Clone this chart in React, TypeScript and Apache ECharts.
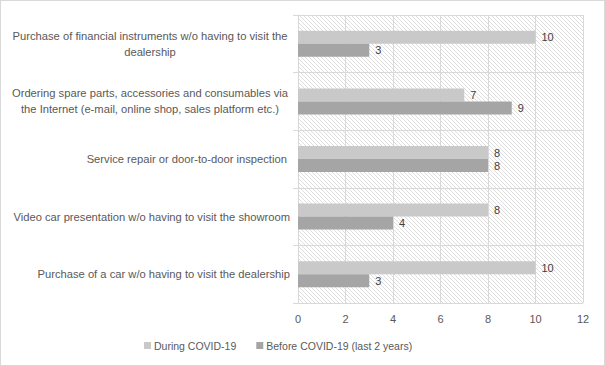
import React, { useEffect, useRef } from "react";
import * as echarts from "echarts";

const categories = [
  "Purchase of financial instruments w/o having to visit the\ndealership",
  "Ordering spare parts, accessories and consumables via\nthe Internet (e-mail, online shop, sales platform etc.)",
  "Service repair or door-to-door inspection ",
  "Video car presentation w/o having to visit the showroom",
  "Purchase of a car w/o having to visit the dealership",
];
const duringCovid = [10, 7, 8, 8, 10];
const beforeCovid = [3, 9, 8, 4, 3];
const seriesNames = ["During COVID-19", "Before COVID-19 (last 2 years)"];
const xTicks = { min: 0, max: 12, interval: 2 };

const FONT = "Liberation Sans";

function makeHatch(): HTMLCanvasElement {
  const c = document.createElement("canvas");
  c.width = 4;
  c.height = 4;
  const ctx = c.getContext("2d")!;
  ctx.fillStyle = "#ffffff";
  ctx.fillRect(0, 0, 4, 4);
  ctx.fillStyle = "#dedede";
  for (let i = 0; i < 4; i++) ctx.fillRect(i, i, 1, 1);
  return c;
}

export default function App() {
  const ref = useRef<HTMLDivElement>(null);
  useEffect(() => {
    if (!ref.current) return;
    const chart = echarts.init(ref.current, undefined, { renderer: "svg" });
    const labelColor = "#595959";
    const gridColor = "#d9d9d9";
    const catFont = 11.2;
    chart.setOption({
      animation: false,
      backgroundColor: "#ffffff",
      textStyle: { fontFamily: FONT },
      grid: {
        left: 297,
        right: 21,
        top: 14,
        bottom: 62,
        show: true,
        borderWidth: 0,
        backgroundColor: { image: makeHatch(), repeat: "repeat" },
      },
      legend: {
        bottom: 9,
        left: 138,
        itemWidth: 7,
        itemHeight: 7,
        itemGap: 20,
        icon: "rect",
        textStyle: { color: labelColor, fontSize: 10.5, fontFamily: FONT, padding: [0, 0, 0, -2] },
        data: seriesNames,
      },
      xAxis: {
        type: "value",
        min: xTicks.min,
        max: xTicks.max,
        interval: xTicks.interval,
        axisLine: { show: false },
        axisTick: { show: false },
        axisLabel: { color: labelColor, fontSize: 11, margin: 10, fontFamily: FONT },
        splitLine: { show: true, lineStyle: { color: gridColor, width: 1 } },
      },
      yAxis: {
        type: "category",
        inverse: true,
        data: categories,
        axisLine: { show: true, lineStyle: { color: gridColor } },
        axisTick: { show: true, length: 5, lineStyle: { color: gridColor } },
        splitLine: { show: true, lineStyle: { color: gridColor } },
        axisLabel: {
          color: labelColor,
          fontSize: catFont,
          fontFamily: FONT,
          margin: 8,
          align: "right",
          lineHeight: 16,
          formatter: (v: string) => {
            const lines = v.split("\n");
            if (lines.length === 1) return v;
            const key = v.startsWith("Purchase") ? "f" : "o";
            return lines.map((l) => `{${key}|${l}}`).join("\n");
          },
          rich: {
            f: { width: 280, align: "center", color: labelColor, fontSize: catFont, fontFamily: FONT, lineHeight: 16 },
            o: { width: 280, align: "center", color: labelColor, fontSize: catFont, fontFamily: FONT, lineHeight: 16 },
          },
        },
      },
      series: [
        {
          name: seriesNames[0],
          type: "bar",
          data: duringCovid,
          barWidth: 13,
          barGap: "0%",
          itemStyle: { color: "#c9c9c9" },
          label: { show: true, position: "right", distance: 6, color: "#404040", fontSize: 11, fontFamily: FONT },
        },
        {
          name: seriesNames[1],
          type: "bar",
          data: beforeCovid,
          barWidth: 13,
          barGap: "0%",
          itemStyle: { color: "#a5a5a5" },
          label: { show: true, position: "right", distance: 6, color: "#404040", fontSize: 11, fontFamily: FONT },
        },
      ],
    });
    return () => chart.dispose();
  }, []);
  return (
    <div
      ref={ref}
      style={{
        width: 605,
        height: 366,
        position: "absolute",
        left: 0,
        top: 0,
        boxSizing: "border-box",
        border: "1px solid #d9d9d9",
      }}
    />
  );
}
